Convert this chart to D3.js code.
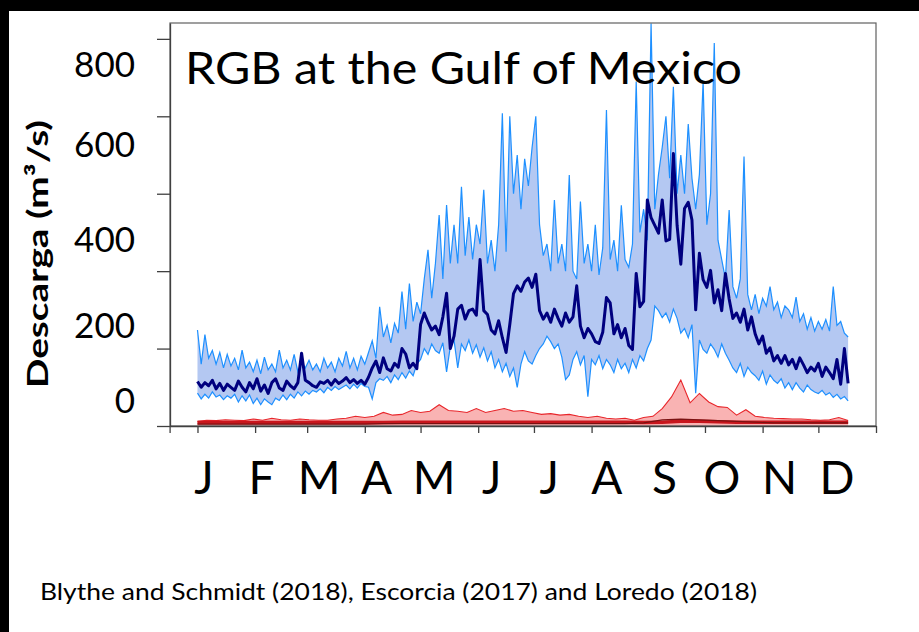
<!DOCTYPE html>
<html>
<head>
<meta charset="utf-8">
<script src="https://cdn.jsdelivr.net/npm/d3@7"></script>
<style>
  html, body { margin: 0; padding: 0; background: #fff; }
  svg { display: block; }
  text { font-family: Lato, "Open Sans", sans-serif; fill: #000; }
</style>
</head>
<body>
<svg id="chart" width="919" height="632"></svg>
<script>
// Daily discharge statistics, sampled every 2 days (day 0 = 1 January)
const blueStep = 2;
const upperQ = [
  248,160,236,175,195,160,190,150,185,155,
  175,145,196,150,165,140,170,135,178,145,
  160,140,196,150,170,145,185,140,165,150,
  170,145,160,140,175,150,165,140,175,155,
  193,150,175,145,180,160,190,220,175,308,
  230,260,215,265,240,347,250,368,270,320,
  290,380,455,330,420,545,380,571,420,520,
  420,618,440,540,430,520,470,610,420,480,
  400,520,808,450,800,600,700,560,690,620,
  720,800,520,440,470,400,584,420,470,400,
  648,400,380,580,420,470,400,520,390,460,
  816,430,480,400,570,430,410,470,890,500,
  560,480,1040,560,650,720,800,640,876,600,
  700,600,780,640,560,650,890,520,600,989,
  480,430,380,558,360,330,380,696,340,300,
  340,290,330,310,360,300,320,280,310,300,
  280,333,270,290,250,280,245,270,250,275,
  245,360,260,270,240,230
];
const lowerQ = [
  85,70,82,72,88,75,80,68,78,72,
  82,62,78,65,80,58,72,55,70,62,
  55,72,66,80,68,82,72,88,78,90,
  82,92,88,96,86,100,92,102,94,100,
  106,96,108,98,110,102,100,70,112,122,
  118,128,112,132,120,138,124,142,130,160,
  172,200,185,212,195,188,215,140,205,222,
  150,212,195,222,188,210,178,202,168,192,
  150,172,140,162,128,150,100,160,192,168,
  160,182,200,212,232,218,200,212,178,120,
  132,172,192,158,182,76,172,158,182,148,
  172,158,138,172,148,162,138,172,150,182,
  168,200,222,310,298,280,292,268,302,278,
  240,252,228,262,85,222,198,188,212,198,
  178,212,188,170,150,138,162,128,152,138,
  130,118,142,108,132,118,110,122,98,112,
  94,112,98,88,106,94,88,84,92,80,
  86,74,82,70,76,65
];
const meanQ = [
  115,100,112,104,118,96,110,92,108,100,
  92,116,100,88,112,96,122,90,106,84,
  112,122,98,92,116,104,96,112,188,118,
  112,104,100,114,110,118,106,120,110,116,
  125,112,120,110,118,108,126,150,168,138,
  176,148,142,162,152,200,186,150,162,148,
  262,292,268,248,258,236,282,343,200,232,
  302,312,276,298,302,286,430,298,288,248,
  238,272,228,190,262,342,362,348,372,382,
  358,392,298,276,292,268,302,278,258,292,
  268,282,362,258,228,252,238,218,213,242,
  332,318,238,262,228,252,208,198,394,308,
  322,584,538,518,498,584,478,482,704,518,
  418,562,578,532,300,446,378,358,402,318,
  352,298,394,328,278,292,268,302,248,282,
  238,212,232,188,202,168,182,162,182,158,
  172,148,176,158,138,152,142,162,128,152,
  138,122,172,108,200,110
];

// Second data set, sampled every 5 days
const redStep = 5;
const redUpperQ = [
  12,15,14,16,15,14,18,15,20,16,
  15,18,16,15,15,18,20,25,22,25,
  35,28,30,40,35,38,55,40,38,35,
  45,35,40,45,38,40,35,30,32,28,
  30,25,22,25,20,18,20,15,22,25,
  45,75,119,60,84,62,50,48,28,42,
  25,22,20,19,18,18,16,15,16,22,
  14
];

// Baseline series, sampled every 10 days
const baseStep = 10;
const redBaseQ = [
  9,9,9,9,9,9,9,9,9,9,
  9,10,10,10,10,10,10,10,10,10,
  10,10,10,10,9,10,12,12,11,10,
  10,10,10,10,10,10
];
const maroonQ = [
  5,5,5,5,5,5,5,5,5,5,
  6,6,6,6,6,6,6,6,6,6,
  6,6,6,6,8,16,18,16,14,12,
  10,8,8,8,8,8
];

const monthLabels = ["J","F","M","A","M","J","J","A","S","O","N","D"];
const monthStarts = [0,31,59,90,120,151,181,212,243,273,304,334,365];
const yTicks = [0,200,400,600,800,1000];
const yLabels = [0,200,400,600,800];

const title = "RGB at the Gulf of Mexico";
const yTitle = "Descarga (m³/s)";
const source = "Blythe and Schmidt (2018), Escorcia (2017) and Loredo (2018)";

const svg = d3.select("#chart");

// black page edges
svg.append("rect").attr("x",0).attr("y",0).attr("width",919).attr("height",11).attr("fill","#000");
svg.append("rect").attr("x",0).attr("y",0).attr("width",9).attr("height",632).attr("fill","#000");

const plot = {left:170, right:876, top:23, bottom:426};

const x = d3.scaleLinear().domain([-15, 365]).range([plot.left - 0.4, plot.right]);
const y = d3.scaleLinear().domain([0, 1041]).range([plot.bottom, plot.top]);

const blue = upperQ.map((u,i) => ({day:i*blueStep, hi:u, lo:lowerQ[i], mean:meanQ[i]}));
const red = redUpperQ.map((v,i) => ({day:i*redStep, v}));
const base = redBaseQ.map((v,i) => ({day:i*baseStep, v, m:maroonQ[i]}));

svg.append("clipPath").attr("id","plotclip")
  .append("rect").attr("x",plot.left).attr("y",plot.top)
  .attr("width",plot.right-plot.left).attr("height",plot.bottom-plot.top);

const g = svg.append("g").attr("clip-path","url(#plotclip)");

// range between minimum and maximum
g.append("path").datum(blue)
  .attr("fill","#b4c8f2")
  .attr("d", d3.area().x(d=>x(d.day)).y0(d=>y(d.lo)).y1(d=>y(d.hi)));

g.append("path").datum(blue)
  .attr("fill","none").attr("stroke","#1e90ff").attr("stroke-width",1.2)
  .attr("d", d3.line().x(d=>x(d.day)).y(d=>y(d.hi)));
g.append("path").datum(blue)
  .attr("fill","none").attr("stroke","#1e90ff").attr("stroke-width",1.2)
  .attr("d", d3.line().x(d=>x(d.day)).y(d=>y(d.lo)));

// mean daily discharge
g.append("path").datum(blue)
  .attr("fill","none").attr("stroke","#00007f").attr("stroke-width",3)
  .attr("stroke-linejoin","round")
  .attr("d", d3.line().x(d=>x(d.day)).y(d=>y(d.mean)));

g.append("path").datum(red)
  .attr("fill","#f9b3b3")
  .attr("d", d3.area().x(d=>x(d.day)).y0(y(0)).y1(d=>y(d.v)));
g.append("path").datum(red)
  .attr("fill","none").attr("stroke","#e8262b").attr("stroke-width",1.1)
  .attr("d", d3.line().x(d=>x(d.day)).y(d=>y(d.v)));
g.append("path").datum(base)
  .attr("fill","none").attr("stroke","#c8161d").attr("stroke-width",3.5)
  .attr("d", d3.line().x(d=>x(d.day)).y(d=>y(d.v)));
g.append("path").datum(base)
  .attr("fill","none").attr("stroke","#7a1212").attr("stroke-width",1.2)
  .attr("d", d3.line().x(d=>x(d.day)).y(d=>y(d.m)));

// frame
svg.append("rect").attr("x",plot.left).attr("y",plot.top)
  .attr("width",plot.right-plot.left).attr("height",plot.bottom-plot.top)
  .attr("fill","none").attr("stroke","#606060").attr("stroke-width",1.2);

// axes
const xAxis = d3.axisBottom(x).tickValues([-15].concat(monthStarts))
  .tickSize(7).tickSizeOuter(0).tickFormat("");
const yAxis = d3.axisLeft(y).tickValues(yTicks)
  .tickSize(13).tickSizeOuter(0).tickFormat("");

const gx = svg.append("g").attr("transform",`translate(0,${plot.bottom})`).call(xAxis);
const gy = svg.append("g").attr("transform",`translate(${plot.left},0)`).call(yAxis);
[gx, gy].forEach(a => {
  a.selectAll("path").attr("stroke","#404040").attr("stroke-width",1.3);
  a.selectAll("line").attr("stroke","#404040").attr("stroke-width",1.3);
});

// value labels on the left
const labelY = d3.scaleLinear().domain(yLabels).range([413, 338, 252, 157, 77]);
svg.append("g").selectAll("text").data(yLabels).join("text")
  .attr("x",135).attr("y",d=>labelY(d))
  .attr("text-anchor","end")
  .style("font-size","35px")
  .text(d=>d);

// month initials
const labelX = d3.scalePoint().domain(d3.range(12)).range([204, 837]);
svg.append("g").selectAll("text").data(monthLabels).join("text")
  .attr("x",(d,i)=>labelX(i)).attr("y",494)
  .attr("text-anchor","middle")
  .style("font-size","46px")
  .text(d=>d);

// y title
svg.append("text")
  .attr("transform","translate(48,254) rotate(-90)")
  .attr("text-anchor","middle")
  .attr("textLength",268).attr("lengthAdjust","spacingAndGlyphs")
  .style("font-size","29px").style("font-weight","bold")
  .text(yTitle);

// chart title
svg.append("text")
  .attr("x",185).attr("y",84)
  .attr("textLength",557).attr("lengthAdjust","spacingAndGlyphs")
  .style("font-size","45px")
  .text(title);

// source line
svg.append("text")
  .attr("x",40).attr("y",600)
  .attr("textLength",717).attr("lengthAdjust","spacingAndGlyphs")
  .style("font-size","24px")
  .text(source);
</script>
</body>
</html>
